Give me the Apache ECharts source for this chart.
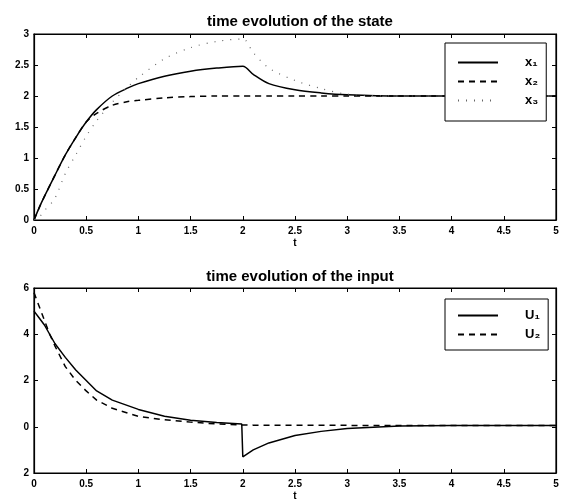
<!DOCTYPE html>
<html>
<head>
<meta charset="utf-8">
<script src="https://cdn.jsdelivr.net/npm/echarts@6/dist/echarts.min.js"></script>
<style>
html, body { margin: 0; padding: 0; background: #fff; }
#chart { width: 568px; height: 502px; }
</style>
</head>
<body>
<div id="chart"></div>
<script>
// state plot
var tState  = [0, 0.05, 0.1, 0.2, 0.3, 0.4, 0.5, 0.6, 0.75, 0.9, 1.0, 1.25, 1.5, 1.75, 2.0, 2.1, 2.25, 2.5, 2.75, 3.0, 3.5, 4.0, 5.0];
var x1 = [0, 0.2, 0.38, 0.72, 1.05, 1.33, 1.58, 1.78, 2.0, 2.13, 2.2, 2.32, 2.4, 2.45, 2.48, 2.35, 2.2, 2.1, 2.05, 2.02, 2.0, 2.0, 2.0];
var x2 = [0, 0.2, 0.38, 0.72, 1.05, 1.33, 1.58, 1.72, 1.85, 1.91, 1.93, 1.97, 1.99, 2.0, 2.0, 2.0, 2.0, 2.0, 2.0, 2.0, 2.0, 2.0, 2.0];
var x3 = [0, 0.05, 0.15, 0.35, 0.75, 1.05, 1.35, 1.6, 1.9, 2.15, 2.3, 2.6, 2.78, 2.88, 2.92, 2.7, 2.45, 2.25, 2.12, 2.03, 2.0, 2.0, 2.0];

// input plot
var tInput = [0, 0.05, 0.1, 0.15, 0.2, 0.3, 0.4, 0.5, 0.6, 0.75, 1.0, 1.25, 1.5, 1.75, 1.99, 2.0, 2.1, 2.25, 2.5, 2.75, 3.0, 3.5, 4.0, 5.0];
var u1 = [5.0, 4.7, 4.4, 4.0, 3.6, 3.0, 2.45, 2.0, 1.55, 1.15, 0.75, 0.45, 0.28, 0.18, 0.12, -1.3, -1.0, -0.7, -0.38, -0.2, -0.08, 0.03, 0.05, 0.05];
var u2 = [5.8, 5.2, 4.6, 4.0, 3.5, 2.6, 2.0, 1.55, 1.15, 0.8, 0.45, 0.3, 0.2, 0.12, 0.08, 0.08, 0.07, 0.07, 0.07, 0.07, 0.06, 0.05, 0.05, 0.05];

// tick labels as printed (the minus sign of -2 is lost in the original)
var inputTickLabels = { '-2': '2', '0': '0', '2': '2', '4': '4', '6': '6' };

function pairs(t, v) {
    var arr = [];
    for (var i = 0; i < t.length; i++) {
        arr.push([t[i], v[i]]);
    }
    return arr;
}

var font = 'Liberation Sans';
var lab = { color: '#000', fontFamily: font, fontWeight: 'bold', fontSize: 10 };
var frame = { onZero: false, lineStyle: { color: '#000', width: 1.2 } };
var tick = { show: true, inside: true, length: 4, lineStyle: { color: '#000' } };

function xAx(gi) {
    return {
        type: 'value', gridIndex: gi, min: 0, max: 5, interval: 0.5,
        name: 't', nameLocation: 'middle', nameGap: 18,
        nameTextStyle: { color: '#000', fontFamily: font, fontSize: 10, fontWeight: 'bold' },
        axisLine: frame, axisTick: tick,
        axisLabel: Object.assign({ margin: 6 }, lab),
        splitLine: { show: false }
    };
}
function xTop(gi) {
    return {
        type: 'value', gridIndex: gi, position: 'top', min: 0, max: 5, interval: 0.5,
        axisLine: frame, axisTick: tick,
        axisLabel: { show: false }, splitLine: { show: false }
    };
}
function yAx(gi, mn, mx, step, right, fmt) {
    return {
        type: 'value', gridIndex: gi, min: mn, max: mx, interval: step,
        position: right ? 'right' : 'left',
        axisLine: Object.assign({ show: true }, frame), axisTick: tick,
        axisLabel: right ? { show: false } : Object.assign({ margin: 5, formatter: fmt }, lab),
        splitLine: { show: false }
    };
}
function legendBox(names, top, pad, gap) {
    return {
        data: names, orient: 'vertical', left: 445, top: top, width: 98,
        padding: pad, itemGap: gap, itemWidth: 40, itemHeight: 12,
        itemStyle: { opacity: 0, borderWidth: 0 },
        borderColor: '#000', borderWidth: 1, backgroundColor: '#fff',
        textStyle: { fontFamily: font, fontSize: 13, color: '#000', fontWeight: 'bold', padding: [0, 0, 0, 22] }
    };
}

var myChart = echarts.init(document.getElementById('chart'));

var option = {
    animation: false,
    backgroundColor: '#fff',
    title: [
        { text: 'time evolution of the state', left: 295, top: 9, textAlign: 'center',
          textStyle: { fontFamily: font, fontSize: 15, fontWeight: 'bold', color: '#000' } },
        { text: 'time evolution of the input', left: 295, top: 264, textAlign: 'center',
          textStyle: { fontFamily: font, fontSize: 15, fontWeight: 'bold', color: '#000' } }
    ],
    legend: [
        legendBox(['x₁', 'x₂', 'x₃'], 43, [13, 8, 14, 12], 6),
        legendBox(['U₁', 'U₂'], 299, [10, 8, 9, 12], 6)
    ],
    grid: [
        { left: 34, right: 12, top: 34, height: 186, show: true, borderColor: '#000', borderWidth: 1.2 },
        { left: 34, right: 12, top: 288, height: 185, show: true, borderColor: '#000', borderWidth: 1.2 }
    ],
    xAxis: [xAx(0), xAx(1), xTop(0), xTop(1)],
    yAxis: [
        yAx(0, 0, 3, 0.5, false),
        yAx(1, -2, 6, 2, false, function (v) { return inputTickLabels[String(v)]; }),
        yAx(0, 0, 3, 0.5, true),
        yAx(1, -2, 6, 2, true)
    ],
    series: [
        { name: 'x₁', type: 'line', xAxisIndex: 0, yAxisIndex: 0, symbol: 'none', smooth: 0.3,
          lineStyle: { color: '#000', width: 1.5, type: 'solid' }, itemStyle: { color: '#000' },
          data: pairs(tState, x1) },
        { name: 'x₂', type: 'line', xAxisIndex: 0, yAxisIndex: 0, symbol: 'none', smooth: 0.3,
          lineStyle: { color: '#000', width: 1.5, type: [6, 5] }, itemStyle: { color: '#000' },
          data: pairs(tState, x2) },
        { name: 'x₃', type: 'line', xAxisIndex: 0, yAxisIndex: 0, symbol: 'none', smooth: 0.3,
          lineStyle: { color: '#666', width: 1.2, type: [1, 7] }, itemStyle: { color: '#666' },
          data: pairs(tState, x3) },
        { name: 'U₁', type: 'line', xAxisIndex: 1, yAxisIndex: 1, symbol: 'none',
          lineStyle: { color: '#000', width: 1.5, type: 'solid' }, itemStyle: { color: '#000' },
          data: pairs(tInput, u1) },
        { name: 'U₂', type: 'line', xAxisIndex: 1, yAxisIndex: 1, symbol: 'none',
          lineStyle: { color: '#000', width: 1.5, type: [6, 5] }, itemStyle: { color: '#000' },
          data: pairs(tInput, u2) }
    ]
};

myChart.setOption(option);
</script>
</body>
</html>
